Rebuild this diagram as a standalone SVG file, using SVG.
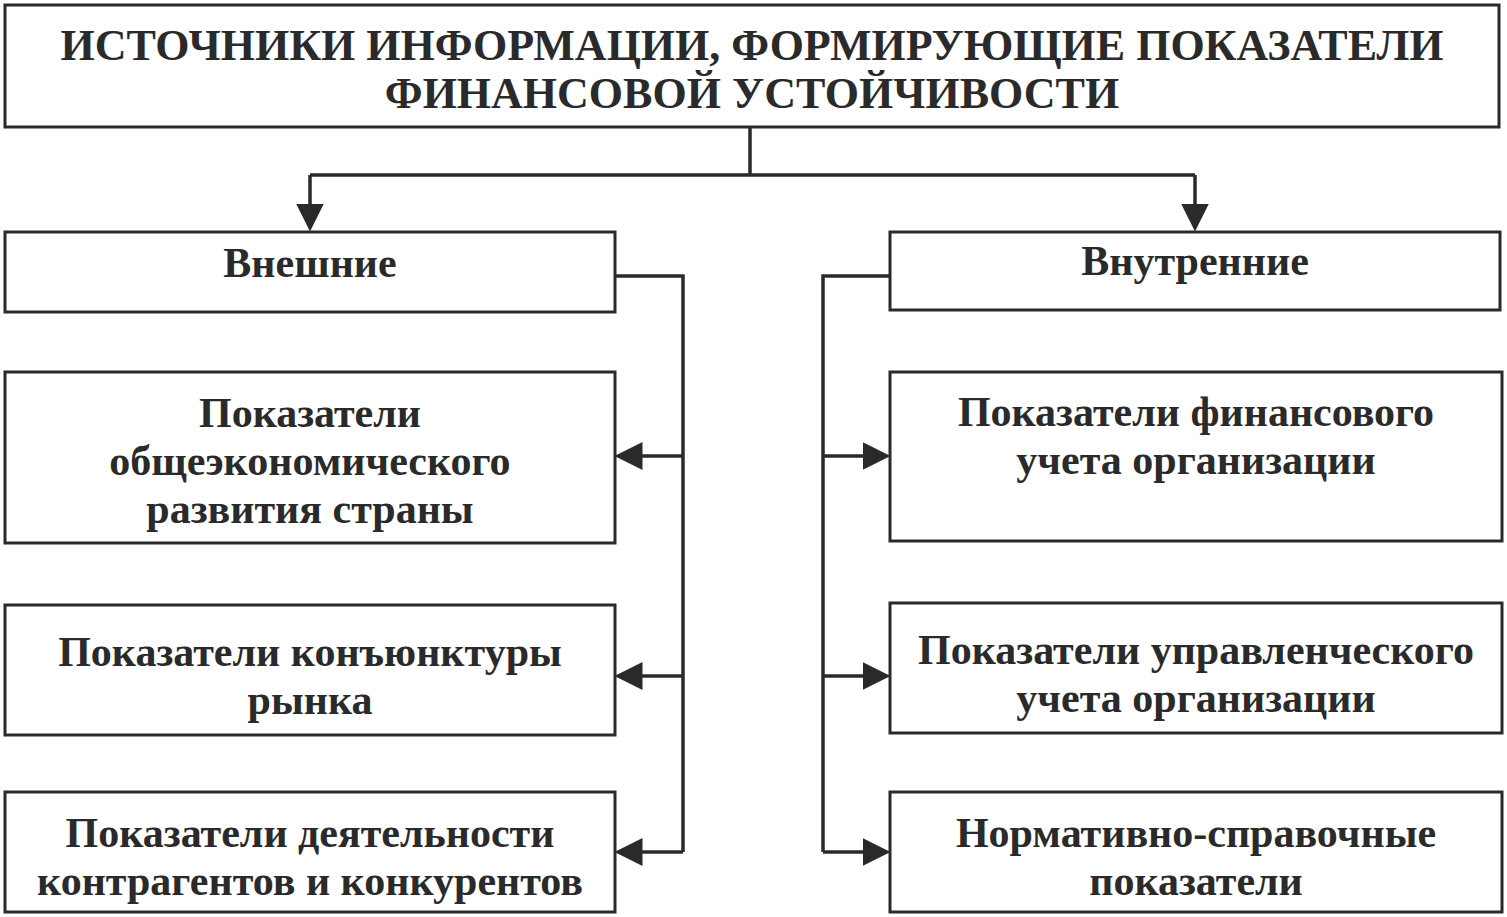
<svg xmlns="http://www.w3.org/2000/svg" width="1507" height="917" viewBox="0 0 1507 917">
<style>
.b{fill:#fff;stroke:#2a2a2a;stroke-width:3}
.t{font-family:"Liberation Serif",serif;font-weight:bold;font-size:42px;fill:#2a2a2a;text-anchor:middle}
.h{font-size:44px}
.c{fill:none;stroke:#2a2a2a;stroke-width:3.5}
</style>
<defs><marker id="a" markerWidth="8" markerHeight="8" refX="7" refY="4" orient="auto" markerUnits="strokeWidth"><path d="M0,0 L8,4 L0,8 z" fill="#2a2a2a"/></marker></defs>
<rect width="1507" height="917" fill="#fff"/>
<g id="connectors">
<path class="c" d="M750,127 V175 M310,175 H1195"/>
<path class="c" d="M310,175 V228" marker-end="url(#a)"/>
<path class="c" d="M1195,175 V228" marker-end="url(#a)"/>
<path class="c" d="M615,276 H683 V852"/>
<path class="c" d="M683,456 H618" marker-end="url(#a)"/>
<path class="c" d="M683,676 H618" marker-end="url(#a)"/>
<path class="c" d="M683,852 H618" marker-end="url(#a)"/>
<path class="c" d="M890,276 H823 V852"/>
<path class="c" d="M823,456 H887" marker-end="url(#a)"/>
<path class="c" d="M823,676 H887" marker-end="url(#a)"/>
<path class="c" d="M823,852 H887" marker-end="url(#a)"/>
</g>
<g id="title"><rect class="b" x="5" y="5" width="1494" height="122"/>
<text class="t h" x="752" y="60">ИСТОЧНИКИ ИНФОРМАЦИИ, ФОРМИРУЮЩИЕ ПОКАЗАТЕЛИ</text>
<text class="t h" x="752" y="108">ФИНАНСОВОЙ  УСТОЙЧИВОСТИ</text></g>
<g id="ext"><rect class="b" x="5" y="232" width="610" height="80"/><text class="t" x="310" y="277">Внешние</text></g>
<g id="int"><rect class="b" x="890" y="232" width="610" height="78"/><text class="t" x="1195" y="275">Внутренние</text></g>
<g id="e1"><rect class="b" x="5" y="372" width="610" height="171"/>
<text class="t" x="310" y="427">Показатели</text><text class="t" x="310" y="475">общеэкономического</text><text class="t" x="310" y="523">развития страны</text></g>
<g id="e2"><rect class="b" x="5" y="605" width="610" height="130"/>
<text class="t" x="310" y="666">Показатели конъюнктуры</text><text class="t" x="310" y="714">рынка</text></g>
<g id="e3"><rect class="b" x="5" y="792" width="610" height="120"/>
<text class="t" x="310" y="847">Показатели деятельности</text><text class="t" x="310" y="895">контрагентов и конкурентов</text></g>
<g id="i1"><rect class="b" x="890" y="372" width="612" height="169"/>
<text class="t" x="1196" y="426">Показатели финансового</text><text class="t" x="1196" y="474">учета организации</text></g>
<g id="i2"><rect class="b" x="890" y="603" width="612" height="130"/>
<text class="t" x="1196" y="664">Показатели управленческого</text><text class="t" x="1196" y="712">учета организации</text></g>
<g id="i3"><rect class="b" x="890" y="792" width="612" height="120"/>
<text class="t" x="1196" y="847">Нормативно-справочные</text><text class="t" x="1196" y="895">показатели</text></g>
</svg>
